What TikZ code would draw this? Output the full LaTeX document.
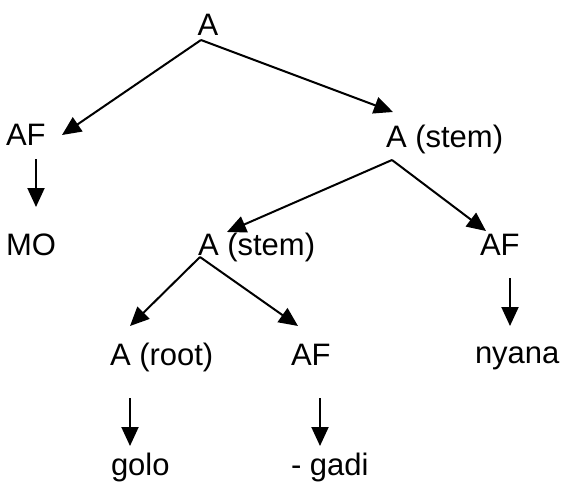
\documentclass[tikz,border=0pt]{standalone}
\usepackage{fontspec}
\setmainfont{Liberation Sans}
\usetikzlibrary{arrows.meta}
\begin{document}
\begin{tikzpicture}[x=1pt,y=-1pt,
  lbl/.style={inner sep=0pt,outer sep=0pt,font=\fontsize{31}{37}\selectfont},
  arr/.style={line width=2pt,-{Triangle[length=19pt,width=17pt]}}]
\useasboundingbox (0,0) rectangle (563,482);
% labels
\node[lbl,anchor=base] (top) at (208,35) {A};
\node[lbl,anchor=base west] (afl) at (6,145) {AF};
\node[lbl,anchor=base west] (mo) at (6,255) {MO};
\node[lbl,anchor=base west] (stemr) at (386,147) {A (stem)};
\node[lbl,anchor=base west] (stemm) at (198,255) {A (stem)};
\node[lbl,anchor=base west] (afr) at (480,255) {AF};
\node[lbl,anchor=base west] (root) at (110,365) {A (root)};
\node[lbl,anchor=base west] (afm) at (291,365) {AF};
\node[lbl,anchor=base west] (nyana) at (475,363) {nyana};
\node[lbl,anchor=base west] (golo) at (111,475) {golo};
\node[lbl,anchor=base west] (gadi) at (291,475) {- gadi};
% branch points and arrow ends
\coordinate (b0) at (201,40);
\coordinate (b1) at (392,160);
\coordinate (b2) at (200,257);
\coordinate (t1) at (62,135);
\coordinate (t2) at (393,112);
\coordinate (t3) at (227,232);
\coordinate (t4) at (486,231);
\coordinate (t5) at (130,326);
\coordinate (t6) at (298,326);
\coordinate (d1s) at (36,159); \coordinate (d1e) at (36,207);
\coordinate (d2s) at (510,278); \coordinate (d2e) at (510,326);
\coordinate (d3s) at (130,398); \coordinate (d3e) at (130,446);
\coordinate (d4s) at (320,398); \coordinate (d4e) at (320,446);
% connectors
\draw[arr] (b0) -- (t1);
\draw[arr] (b0) -- (t2);
\draw[arr] (b1) -- (t3);
\draw[arr] (b1) -- (t4);
\draw[arr] (b2) -- (t5);
\draw[arr] (b2) -- (t6);
\draw[arr] (d1s) -- (d1e);
\draw[arr] (d2s) -- (d2e);
\draw[arr] (d3s) -- (d3e);
\draw[arr] (d4s) -- (d4e);
\end{tikzpicture}
\end{document}
